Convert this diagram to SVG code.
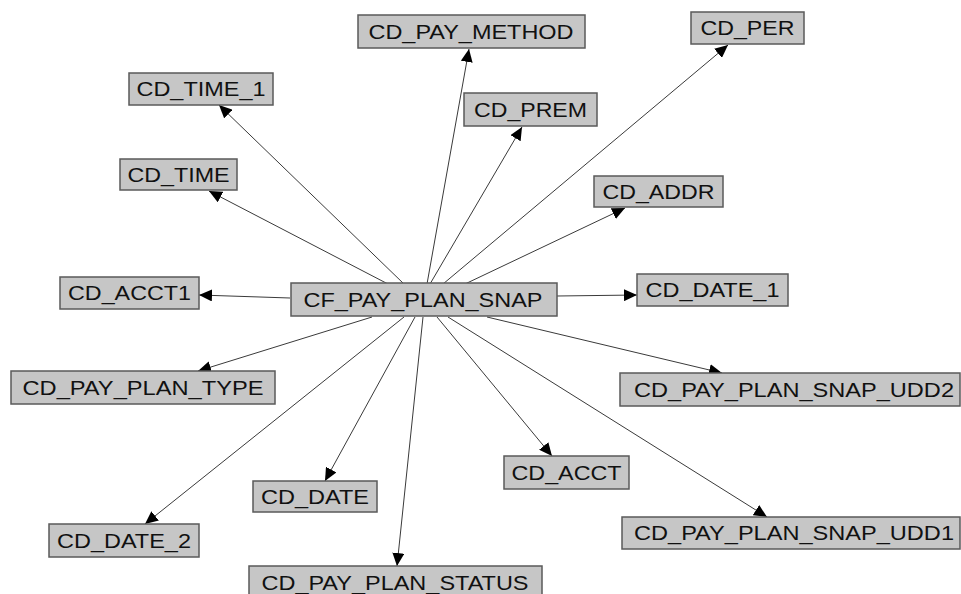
<svg xmlns="http://www.w3.org/2000/svg" width="961" height="594" viewBox="0 0 961 594">
<style>
.box{fill:#c6c6c6;stroke:#5a5a5a;stroke-width:1.5}
.lbl{font-family:"Liberation Sans",Arial,sans-serif;font-size:20px;fill:#111;text-anchor:middle}
.edge{stroke:#3a3a3a;stroke-width:1;fill:none;marker-end:url(#arr)}
</style>
<defs>
<marker id="arr" markerUnits="userSpaceOnUse" markerWidth="14" markerHeight="12" refX="13" refY="6" orient="auto" viewBox="0 0 14 12">
<path d="M0,0 L13,6 L0,12 z" fill="#000"/>
</marker>
</defs>
<rect width="961" height="594" fill="#fff"/>
<g id="connectors">
<line class="edge" x1="404" y1="284" x2="219" y2="105"/>
<line class="edge" x1="388" y1="284" x2="209" y2="191"/>
<line class="edge" x1="427" y1="284" x2="469" y2="49"/>
<line class="edge" x1="430" y1="284" x2="522" y2="127"/>
<line class="edge" x1="443" y1="284" x2="728" y2="45"/>
<line class="edge" x1="465" y1="284" x2="625" y2="208"/>
<line class="edge" x1="557" y1="296" x2="637" y2="295"/>
<line class="edge" x1="290" y1="298" x2="199" y2="295"/>
<line class="edge" x1="372" y1="317" x2="198" y2="371"/>
<line class="edge" x1="404" y1="317" x2="145" y2="524"/>
<line class="edge" x1="415" y1="317" x2="325" y2="481"/>
<line class="edge" x1="423" y1="317" x2="397" y2="566"/>
<line class="edge" x1="437" y1="317" x2="552" y2="456"/>
<line class="edge" x1="448" y1="317" x2="767" y2="517"/>
<line class="edge" x1="487" y1="317" x2="722" y2="373"/>
</g>
<g id="CF_PAY_PLAN_SNAP"><rect class="box" x="291" y="283" width="266" height="33"/><text class="lbl" x="423" y="306.5" textLength="239" lengthAdjust="spacingAndGlyphs">CF_PAY_PLAN_SNAP</text></g>
<g id="CD_PAY_METHOD"><rect class="box" x="358" y="15" width="227" height="33"/><text class="lbl" x="471" y="38.5" textLength="205" lengthAdjust="spacingAndGlyphs">CD_PAY_METHOD</text></g>
<g id="CD_TIME_1"><rect class="box" x="129" y="73" width="144" height="32"/><text class="lbl" x="201" y="96" textLength="129" lengthAdjust="spacingAndGlyphs">CD_TIME_1</text></g>
<g id="CD_TIME"><rect class="box" x="120" y="159" width="117" height="31"/><text class="lbl" x="178.5" y="181.5" textLength="102" lengthAdjust="spacingAndGlyphs">CD_TIME</text></g>
<g id="CD_ACCT1"><rect class="box" x="60" y="277" width="139" height="32"/><text class="lbl" x="129.5" y="300" textLength="123" lengthAdjust="spacingAndGlyphs">CD_ACCT1</text></g>
<g id="CD_PREM"><rect class="box" x="464" y="93" width="133" height="33"/><text class="lbl" x="530.5" y="116.5" textLength="113" lengthAdjust="spacingAndGlyphs">CD_PREM</text></g>
<g id="CD_PER"><rect class="box" x="691" y="12" width="113" height="32"/><text class="lbl" x="747.5" y="35" textLength="94" lengthAdjust="spacingAndGlyphs">CD_PER</text></g>
<g id="CD_ADDR"><rect class="box" x="594" y="176" width="129" height="31"/><text class="lbl" x="658.5" y="198.5" textLength="112" lengthAdjust="spacingAndGlyphs">CD_ADDR</text></g>
<g id="CD_DATE_1"><rect class="box" x="637" y="274" width="151" height="32"/><text class="lbl" x="712.5" y="297" textLength="134" lengthAdjust="spacingAndGlyphs">CD_DATE_1</text></g>
<g id="CD_PAY_PLAN_TYPE"><rect class="box" x="11" y="371" width="264" height="33"/><text class="lbl" x="143" y="394.5" textLength="241" lengthAdjust="spacingAndGlyphs">CD_PAY_PLAN_TYPE</text></g>
<g id="CD_PAY_PLAN_SNAP_UDD2"><rect class="box" x="620" y="373" width="340" height="33"/><text class="lbl" x="794" y="396.5" textLength="320" lengthAdjust="spacingAndGlyphs">CD_PAY_PLAN_SNAP_UDD2</text></g>
<g id="CD_ACCT"><rect class="box" x="504" y="456" width="125" height="33"/><text class="lbl" x="566.5" y="479.5" textLength="110" lengthAdjust="spacingAndGlyphs">CD_ACCT</text></g>
<g id="CD_DATE"><rect class="box" x="253" y="481" width="124" height="31"/><text class="lbl" x="315" y="503.5" textLength="108" lengthAdjust="spacingAndGlyphs">CD_DATE</text></g>
<g id="CD_DATE_2"><rect class="box" x="49" y="524" width="150" height="33"/><text class="lbl" x="124" y="547.5" textLength="134" lengthAdjust="spacingAndGlyphs">CD_DATE_2</text></g>
<g id="CD_PAY_PLAN_SNAP_UDD1"><rect class="box" x="622" y="517" width="338" height="32"/><text class="lbl" x="794" y="540" textLength="320" lengthAdjust="spacingAndGlyphs">CD_PAY_PLAN_SNAP_UDD1</text></g>
<g id="CD_PAY_PLAN_STATUS"><rect class="box" x="249" y="566" width="293" height="33"/><text class="lbl" x="395" y="589.5" textLength="267" lengthAdjust="spacingAndGlyphs">CD_PAY_PLAN_STATUS</text></g>
</svg>
